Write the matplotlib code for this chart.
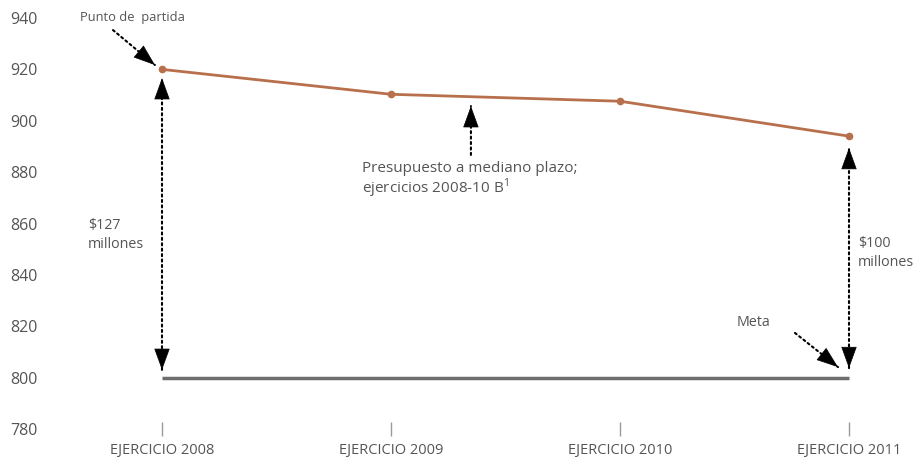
import matplotlib.pyplot as plt
import numpy as np

plt.rcParams['font.family'] = ['Open Sans', 'DejaVu Sans']

years = ['EJERCICIO 2008', 'EJERCICIO 2009', 'EJERCICIO 2010', 'EJERCICIO 2011']
budget = [920, 910.3, 907.6, 894]
goal = [800, 800, 800, 800]
yticks = [780, 800, 820, 840, 860, 880, 900, 920, 940]

gray = '#555555'
x = np.arange(len(years))

fig = plt.figure(figsize=(9.14, 4.59), dpi=100)
ax = fig.add_axes([50/914, 30/459, 850/914, 411/459])

ax.plot(x, goal, color='#6e6e6e', lw=2.5, solid_capstyle='butt')
ax.plot(x, budget, color='#b8704c', lw=2, marker='o', ms=4.5)

ax.set_xlim(-112/229, 3 + 51/229)
ax.set_ylim(780, 940)
ax.set_yticks(yticks)
ax.set_xticks(x)
ax.set_xticklabels(years)
for s in ax.spines.values():
    s.set_visible(False)
ax.tick_params(axis='y', length=0, pad=9, labelsize=11.5, labelcolor=gray)
ax.tick_params(axis='x', direction='inout', length=10, width=1, color='#999999',
               pad=5, labelsize=10.5, labelcolor=gray)


def dotted_arrow(p0, p1, both=False):
    # dotted shaft, solid black heads
    ax.annotate('', xy=p1, xytext=p0, annotation_clip=False,
                arrowprops=dict(arrowstyle='-', color='black', lw=1.5,
                                ls=(0, (1, 1.6)), shrinkA=0, shrinkB=0))
    ends = [(p0, p1), (p1, p0)] if both else [(p0, p1)]
    for a, b in ends:
        pa = ax.transData.transform(a)
        pb = ax.transData.transform(b)
        d = (pb - pa) / np.hypot(*(pb - pa))
        ax.annotate('', xy=b, xytext=(-d[0] * 2, -d[1] * 2), textcoords='offset points',
                    annotation_clip=False,
                    arrowprops=dict(arrowstyle='-|>,head_length=1.1,head_width=0.4',
                                    color='black', lw=0.5, shrinkA=0, shrinkB=0,
                                    mutation_scale=13))


dotted_arrow((-0.214, 935.3), (-0.031, 921.7))
dotted_arrow((0, 803), (0, 916.6), both=True)
dotted_arrow((1.349, 886.7), (1.349, 905.7))
dotted_arrow((3, 803.7), (3, 889.4), both=True)
dotted_arrow((2.764, 817.4), (2.952, 804.1))

ax.text(-0.358, 940, 'Punto de  partida', fontsize=9.3, color=gray, va='center')
ax.text(-0.323, 855.5, '$127\nmillones', fontsize=10.3, color=gray, va='center',
        linespacing=1.3)
ax.text(0.873, 884.5, 'Presupuesto a mediano plazo;\nejercicios 2008-10 B$^{\\mathregular{1}}$',
        fontsize=11, color=gray, va='top', linespacing=1.1)
ax.text(3.039, 848.5, '$100\nmillones', fontsize=10.3, color=gray, va='center',
        linespacing=1.3)
ax.text(2.511, 821.6, 'Meta', fontsize=10.3, color=gray, va='center')

fig.savefig('out.png', dpi=100)
